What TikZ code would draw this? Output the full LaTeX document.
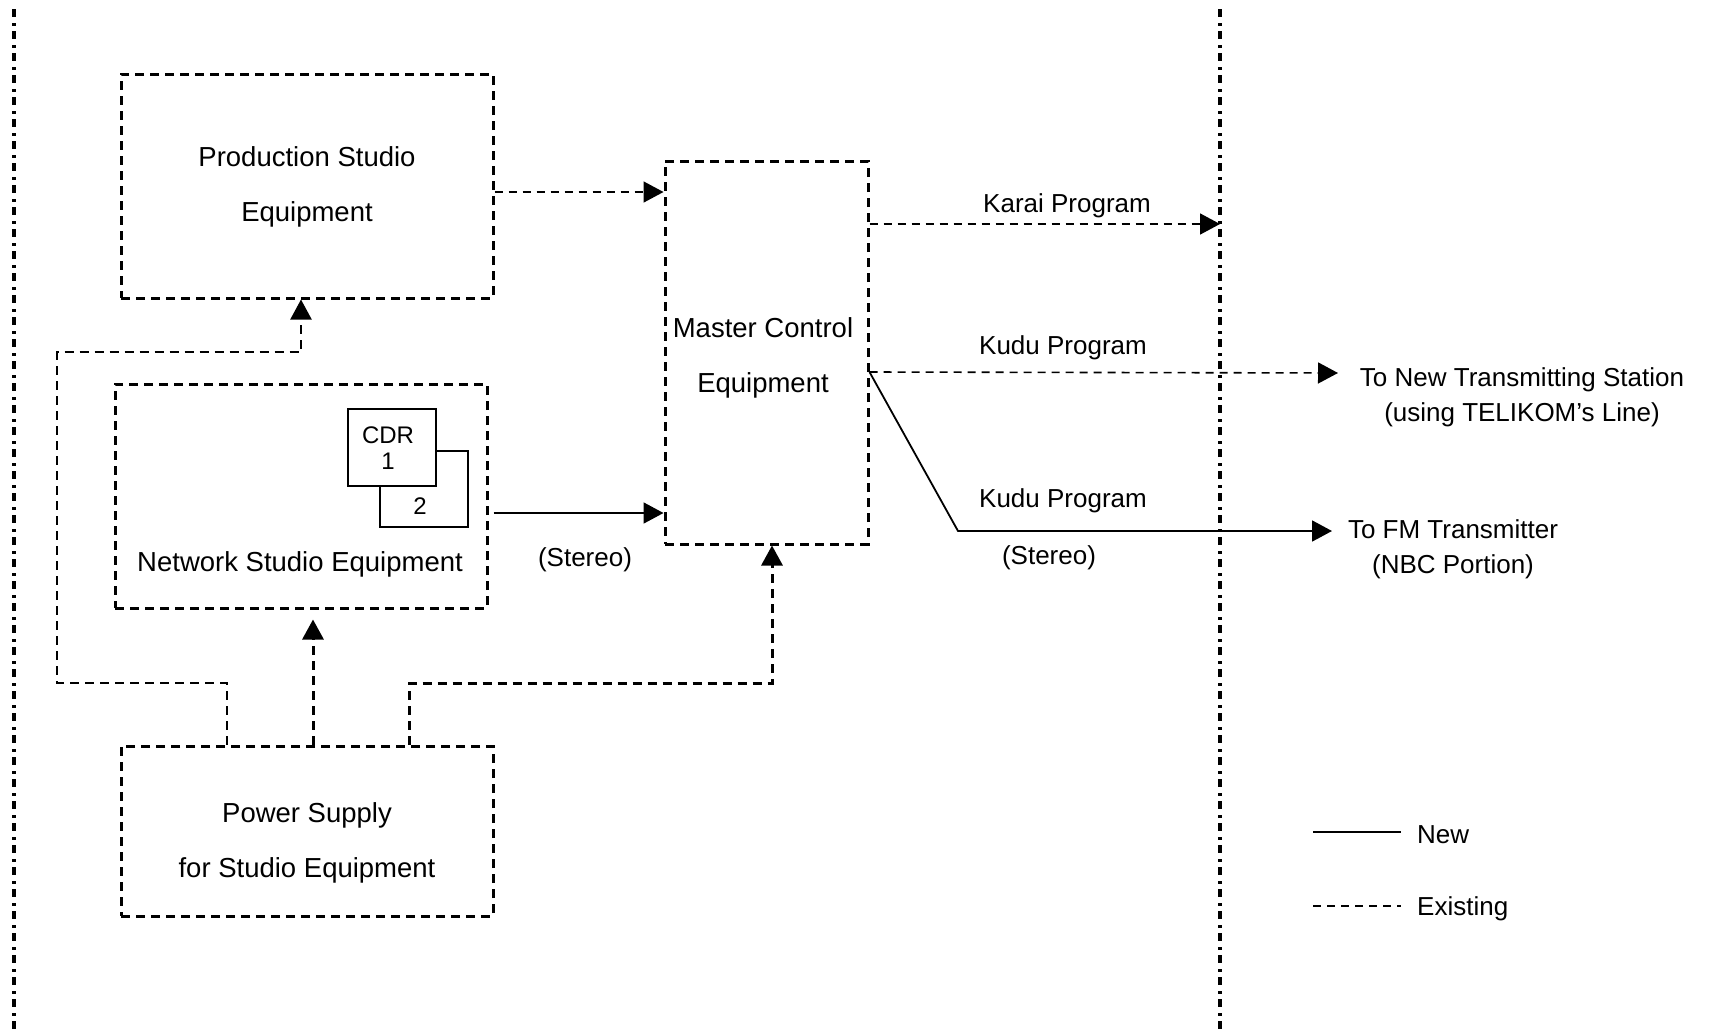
\documentclass[tikz,border=0pt]{standalone}
\usepackage{fontspec}
\setmainfont{Liberation Sans}
\usetikzlibrary{arrows.meta,calc}

\begin{document}
\begin{tikzpicture}[x=1pt,y=-1pt,
  unit/.style={draw, line width=3pt, dash pattern=on 9pt off 6pt,
    rectangle, inner sep=0pt},
  cdr/.style={draw, line width=1.5pt, rectangle, inner sep=0pt, fill=white},
  boxtext/.style={font=\fontsize{27.5}{55}\selectfont, align=center, inner sep=0pt},
  lbl/.style={font=\fontsize{26}{35}\selectfont, align=center, inner sep=0pt},
  small/.style={font=\fontsize{24}{26}\selectfont, align=center, inner sep=0pt},
  existing/.style={line width=1.6pt, dash pattern=on 8pt off 6pt},
  supply/.style={line width=3pt, dash pattern=on 9pt off 6pt},
  thinsupply/.style={line width=2.2pt, dash pattern=on 9pt off 6pt},
  newline/.style={line width=1.8pt},
  boundary/.style={line width=3.4pt, dash pattern=on 8pt off 6pt on 3pt off 5pt},
  tip/.style={-{Triangle[length=20pt,width=21pt]}},
]
\useasboundingbox (0,0) rectangle (1714,1031);

% area boundaries
\coordinate (ltop) at (14,9);
\coordinate (lbot) at (14,1031);
\coordinate (rtop) at (1220,9);
\coordinate (rbot) at (1220,1031);
\draw[boundary] (ltop) -- (lbot);
\draw[boundary] (rtop) -- (rbot);

% equipment blocks
\node[unit, minimum width=372pt, minimum height=224pt] (prod) at (307,186) {};
\node[boxtext] (prodtxt) at (307,187) {Production Studio\\Equipment};

\node[unit, minimum width=203pt, minimum height=383pt] (master) at (766.5,352.5) {};
\node[boxtext] (mastertxt) at (763,358) {Master Control\\Equipment};

\node[unit, minimum width=372pt, minimum height=224pt] (net) at (301,496) {};
\node[boxtext] (nettxt) at (300,564) {Network Studio Equipment};

\node[unit, minimum width=372pt, minimum height=170pt] (power) at (307,831) {};
\node[boxtext] (powertxt) at (307,843) {Power Supply\\for Studio Equipment};

% CD recorders
\node[cdr, minimum width=88pt, minimum height=76pt] (cdr2) at (424,489) {};
\node[cdr, minimum width=88pt, minimum height=77pt] (cdr1) at (392,447.5) {};
\node[small] (cdr1txt) at (388,448) {CDR\\1};
\node[small] (cdr2txt) at (420,506) {2};

% programme feeds
\draw[existing,tip] ([yshift=-6pt]prod.east) -- ([yshift=-6pt]prod.east -| master.west);
\draw[newline,tip] ([xshift=5pt,yshift=-17pt]net.east) -- ([yshift=-17pt]net.east -| master.west);
\node[lbl] (stereo1) at (585,560) {(Stereo)};

\coordinate (mkar) at ([yshift=128.5pt]master.east);
\coordinate (mkud) at ([yshift=-19.5pt]master.east);
\coordinate (tnew) at (1338,373);
\coordinate (kbend) at (958,531);
\coordinate (tfm) at (1332,531);

\draw[existing,tip] (mkar) -- (mkar -| rtop);
\node[lbl] (karai) at (1067,206) {Karai Program};

\draw[existing,tip] (mkud) -- (tnew);
\node[lbl] (kudu1) at (1063,348) {Kudu Program};

\draw[newline,tip] (mkud) -- (kbend) -- (tfm);
\node[lbl] (kudu2) at (1063,501) {Kudu Program};
\node[lbl] (stereo2) at (1049,558) {(Stereo)};

\node[lbl] (tonew) at (1522,397) {To New Transmitting Station\\(using TELIKOM’s Line)};
\node[lbl] (tofm) at (1453,549) {To FM Transmitter\\(NBC Portion)};

% power distribution
\coordinate (pL1) at (57,683);
\coordinate (pL2) at (57,352);
\coordinate (pR) at (772,683);
\draw[thinsupply,tip] ([xshift=-80pt]power.north) |- (pL1) -- (pL2) -| ([xshift=-6pt]prod.south);
\draw[supply,tip,shorten >=10pt] ([xshift=6pt]power.north) -- ([xshift=6pt]power.north |- net.south);
\draw[supply,tip] ([xshift=102pt]power.north) |- (pR) -- (pR |- master.south);

% legend
\coordinate (lgA1) at (1313,832);
\coordinate (lgA2) at (1401,832);
\coordinate (lgB1) at (1313,906);
\coordinate (lgB2) at (1401,906);
\draw[newline] (lgA1) -- (lgA2);
\draw[existing] (lgB1) -- (lgB2);
\node[lbl, anchor=west] (lgnew) at (1417,835) {New};
\node[lbl, anchor=west] (lgold) at (1417,909) {Existing};
\end{tikzpicture}
\end{document}
